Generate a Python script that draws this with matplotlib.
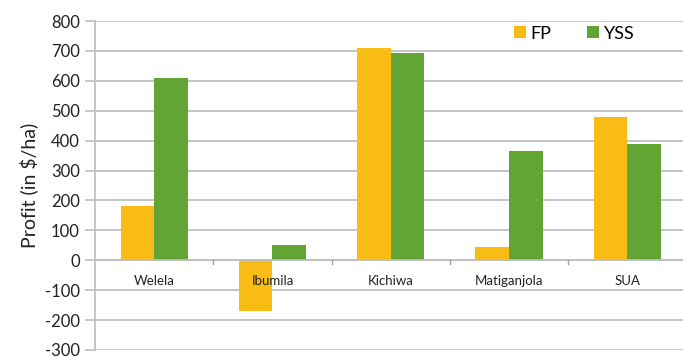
import matplotlib.pyplot as plt
import numpy as np

plt.rcParams['font.family'] = ['Lato', 'DejaVu Sans']

sites = ['Welela', 'Ibumila', 'Kichiwa', 'Matiganjola', 'SUA']
fp = [181, -169, 709, 44, 478]
yss = [608, 51, 692, 365, 390]
yticks = list(range(-300, 801, 100))

fig = plt.figure(figsize=(6.83, 3.57), dpi=100)
ax = fig.add_axes([95/683, 1 - 350/357, 1 - 95/683, (350 - 21)/357])

x = np.arange(len(sites))
w = 0.284
ax.bar(x - w/2, fp, w, color='#F9BC15', label='FP', zorder=3)
ax.bar(x + w/2, yss, w, color='#62A534', label='YSS', zorder=3)

ax.set_xlim(-0.5, 4.47)
ax.set_ylim(-300, 800)
ax.set_yticks(yticks)
ax.set_yticklabels([str(v) for v in yticks], fontsize=12, color='#222222')
ax.grid(axis='y', color='#BFBFBF', linewidth=1.3, zorder=0)
ax.tick_params(axis='y', length=7, width=1.2, color='#BFBFBF', pad=4)
ax.set_xticks([])
for s in ['top', 'right', 'bottom']:
    ax.spines[s].set_visible(False)
ax.spines['left'].set_color('#BFBFBF')
ax.spines['left'].set_linewidth(1.3)
ax.axhline(0, color='#BFBFBF', linewidth=1.3, zorder=4)

# category boundary ticks on the zero line
for b in np.arange(0.5, len(sites), 1.0):
    ax.plot([b, b], [0, -12], color='#A0A0A0', linewidth=1, zorder=4, clip_on=False)

for i, s in enumerate(sites):
    ax.text(i, -70, s, ha='center', va='center', fontsize=9.5, color='#222222')

ax.set_ylabel('Profit (in $/ha)', fontsize=14, color='#222222', labelpad=5)

ax.legend(loc='upper right', bbox_to_anchor=(0.945, 1.035), ncol=2, frameon=False,
          fontsize=13, handlelength=0.65, handleheight=0.65, handletextpad=0.25,
          columnspacing=2.0)

plt.savefig('out.png')
